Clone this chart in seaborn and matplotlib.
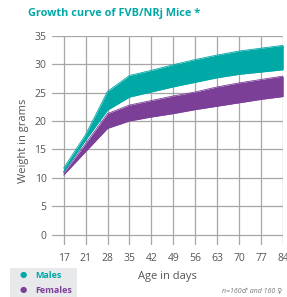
import numpy as np
import pandas as pd
import seaborn as sns
import matplotlib.pyplot as plt

days = ['17', '21', '28', '35', '42', '49', '56', '63', '70', '77', '84']
male_hi = [11.7, 17.6, 25.2, 28.0, 28.9, 29.9, 30.8, 31.6, 32.3, 32.8, 33.3]
male_lo = [11.1, 16.6, 21.9, 24.2, 25.1, 26.0, 26.8, 27.6, 28.2, 28.6, 29.0]
female_hi = [10.9, 16.0, 21.3, 22.8, 23.6, 24.4, 25.1, 26.0, 26.7, 27.3, 27.9]
female_lo = [10.5, 14.6, 18.7, 20.0, 20.7, 21.3, 22.0, 22.6, 23.2, 23.8, 24.3]

teal = '#00a8a6'
purple = '#7c3f98'
grid = '#a7a7a7'
txt = '#555555'

sns.set_style('white')
plt.rcParams['font.family'] = ['Open Sans', 'DejaVu Sans']

df = pd.DataFrame({'day': days, 'male_hi': male_hi, 'male_lo': male_lo,
                   'female_hi': female_hi, 'female_lo': female_lo})

fig = plt.figure(figsize=(2.87, 2.97), dpi=100)
ax = fig.add_axes([0.181, 0.175, 0.806, 0.705])

for col, c in [('male_hi', teal), ('male_lo', teal),
               ('female_hi', purple), ('female_lo', purple)]:
    sns.lineplot(data=df, x='day', y=col, color=c, lw=0.6, ax=ax, zorder=3)

pos = np.arange(len(days))
ax.fill_between(pos, df['male_lo'], df['male_hi'], color=teal, lw=0, zorder=3)
ax.fill_between(pos, df['female_lo'], df['female_hi'], color=purple, lw=0, zorder=3)

ax.set_xlim(-0.53, len(days) - 1)
ax.set_ylim(-1.8, 35)
ax.set_yticks(range(0, 36, 5))
ax.set_xticks(pos)
ax.set_xticklabels(days)
for s in ax.spines.values():
    s.set_visible(False)
ax.grid(False)
for y in range(0, 36, 5):
    ax.axhline(y, color=grid, lw=0.9, zorder=1)
for x in pos:
    ax.plot([x, x], [-1.8, 35], color=grid, lw=0.9, zorder=1)
ax.tick_params(axis='both', length=0, labelsize=7.5, labelcolor=txt)
ax.tick_params(axis='x', pad=6)
ax.tick_params(axis='y', pad=4)
ax.set_xlabel('Age in days', fontsize=8, color=txt, labelpad=5)
ax.set_ylabel('Weight in grams', fontsize=8, color=txt, labelpad=4)

fig.text(0.098, 0.955, 'Growth curve of FVB/NRj Mice *', color=teal,
         fontsize=7.8, fontweight='bold', va='center')

fig.patches.append(plt.Rectangle((0.035, 0.0), 0.235, 0.098, transform=fig.transFigure,
                                 facecolor='#e8e9ea', edgecolor='none', zorder=0))
fig.text(0.08, 0.073, '\u25cf', color=teal, fontsize=6, va='center', ha='center')
fig.text(0.08, 0.022, '\u25cf', color=purple, fontsize=6, va='center', ha='center')
fig.text(0.122, 0.073, 'Males', color=teal, fontsize=6.5, fontweight='bold', va='center')
fig.text(0.122, 0.022, 'Females', color=purple, fontsize=6.5, fontweight='bold', va='center')
fig.text(0.983, 0.02, 'n=160\u2642 and 160 \u2640', color='#777777', fontsize=5,
         style='italic', ha='right', va='center')

fig.savefig('out.png', dpi=100)
